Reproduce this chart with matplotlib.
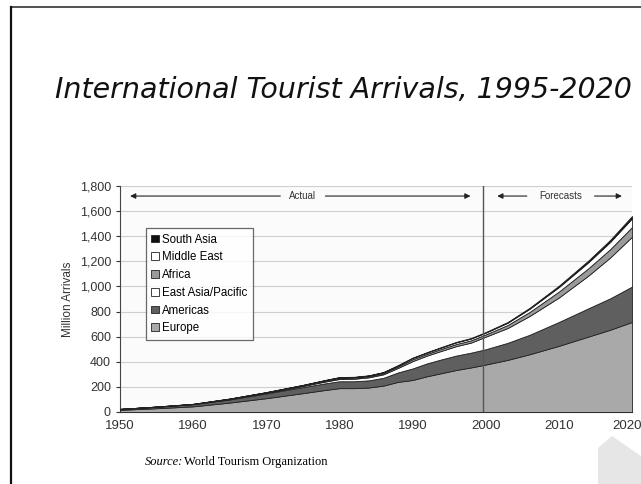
import matplotlib
matplotlib.use("Agg")
import matplotlib.pyplot as plt
from matplotlib.ticker import FuncFormatter
from matplotlib.patches import Polygon
from matplotlib.transforms import ScaledTranslation
import numpy as np

years = [1950, 1955, 1960, 1965, 1970, 1975, 1978, 1980, 1982, 1984, 1986, 1988,
         1990, 1992, 1994, 1996, 1998, 2000, 2003, 2006, 2010, 2014, 2017, 2020]
europe = [17, 30, 45, 75, 110, 150, 175, 190, 190, 195, 210, 240,
          255, 285, 310, 335, 355, 378, 415, 460, 527, 600, 655, 717]
americas = [7, 11, 17, 25, 38, 48, 53, 55, 55, 57, 62, 75,
            92, 103, 110, 115, 118, 122, 136, 155, 190, 225, 250, 282]
east_asia_pacific = [0.2, 1, 1, 3, 6, 9, 14, 18, 20, 24, 28, 36,
                     58, 62, 68, 75, 80, 100, 118, 150, 195, 260, 325, 397]
africa = [0.5, 1, 1, 2, 2, 4, 6, 7, 7, 8, 9, 11,
          15, 14, 16, 17, 18, 18, 24, 32, 47, 58, 66, 77]
middle_east = [0.2, 0.5, 1, 2, 2, 4, 5, 6, 6, 6, 7, 8,
               10, 10, 11, 13, 14, 14, 18, 25, 36, 48, 58, 69]
south_asia = [0.1, 0.2, 0.3, 0.5, 1, 1.5, 2, 2.5, 2.5, 2.5, 2.5, 3,
              3, 3.5, 4, 4, 4.5, 5, 6, 8, 11, 14, 16, 19]

series_names = ["Europe", "Americas", "East Asia/Pacific", "Africa", "Middle East", "South Asia"]
series_colors = ["#a9a9a9", "#5f5f5f", "#ffffff", "#9a9a9a", "#ffffff", "#111111"]
y_ticks = [0, 200, 400, 600, 800, 1000, 1200, 1400, 1600, 1800]
x_ticks = [1950, 1960, 1970, 1980, 1990, 2000, 2010, 2020]

title = "International Tourist Arrivals, 1995-2020"

fig = plt.figure(figsize=(6.41, 4.84), dpi=100)
fig.patch.set_facecolor("white")

# slide border lines
fig.add_artist(plt.Line2D([11/641, 1.0], [1 - 7/484, 1 - 7/484], color="#333333", lw=1.2))
fig.add_artist(plt.Line2D([11/641, 11/641], [0, 1 - 7/484], color="#111111", lw=1.6))

fig.text(343/641, 1 - 90/484, title, fontsize=20.5, style="italic",
         family="DejaVu Sans", ha="center", va="center", color="#111111")

ax = fig.add_axes([120/641, 1 - 412/484, (632 - 120)/641, (412 - 186)/484])
ax.set_facecolor("#fbfbfb")

stack = np.vstack([europe, americas, east_asia_pacific, africa, middle_east, south_asia])
ax.stackplot(years, stack, colors=series_colors, edgecolor="#222222", linewidth=0.6,
             labels=series_names, zorder=3)

ax.set_xlim(1950, 2020)
ax.set_ylim(0, 1800)
ax.set_yticks(y_ticks)
ax.set_xticks(x_ticks)
ax.yaxis.set_major_formatter(FuncFormatter(lambda v, p: f"{int(v):,}"))
ax.grid(axis="y", color="#cfcfcf", lw=0.8, zorder=0)
ax.set_axisbelow(True)
for s in ["top", "right"]:
    ax.spines[s].set_visible(False)
ax.spines["left"].set_color("#444444")
ax.spines["bottom"].set_color("#444444")
ax.tick_params(axis="y", labelsize=9, colors="#333333", length=3)
ax.tick_params(axis="x", labelsize=9.5, colors="#333333", length=0, pad=6)
for lab in ax.get_xticklabels() + ax.get_yticklabels():
    lab.set_family("Liberation Sans")
# keep the last year label inside the canvas
last = ax.get_xticklabels()[-1]
last.set_transform(last.get_transform() + ScaledTranslation(-5/100, 0, fig.dpi_scale_trans))
ax.set_ylabel("Million Arrivals", fontsize=8.5, family="Liberation Sans", color="#333333", labelpad=4)

# divider at 2000
ax.axvline(1999.6, color="#555555", lw=1.0, zorder=5)

# Actual / Forecasts arrows
arr = dict(arrowstyle="-|>", color="#222222", lw=0.8, mutation_scale=8)
yarr = 1720
ax.text(1975, yarr, "Actual", fontsize=7, ha="center", va="center", family="Liberation Sans",
        color="#333333", bbox=dict(fc="#fbfbfb", ec="none", pad=1.5), zorder=6)
ax.annotate("", xy=(1951, yarr), xytext=(1972.3, yarr), arrowprops=arr, zorder=5)
ax.annotate("", xy=(1998.3, yarr), xytext=(1977.7, yarr), arrowprops=arr, zorder=5)
ax.text(2010.2, yarr, "Forecasts", fontsize=7, ha="center", va="center", family="Liberation Sans",
        color="#333333", bbox=dict(fc="#fbfbfb", ec="none", pad=1.5), zorder=6)
ax.annotate("", xy=(2001.2, yarr), xytext=(2006.0, yarr), arrowprops=arr, zorder=5)
ax.annotate("", xy=(2019, yarr), xytext=(2014.5, yarr), arrowprops=arr, zorder=5)

# legend (reversed order)
handles, labels = ax.get_legend_handles_labels()
leg = ax.legend(handles[::-1], labels[::-1], loc="upper left", bbox_to_anchor=(0.05, 0.815),
                prop={"family": "Liberation Sans", "size": 8.3}, frameon=True, fancybox=False,
                edgecolor="#444444", handlelength=0.65, handleheight=0.65, handletextpad=0.25,
                labelspacing=0.5, borderpad=0.5, borderaxespad=0)
leg.get_frame().set_linewidth(0.9)

# source
fig.text(145/641, 1 - 462/484, "Source:", fontsize=9, style="italic", family="Liberation Serif",
         ha="left", va="center")
fig.text(184/641, 1 - 462/484, "World Tourism Organization", fontsize=9, family="Liberation Serif",
         ha="left", va="center")

# watermark corner
fig.add_artist(Polygon([[598/641, 1 - 448/484], [612/641, 1 - 436/484], [641/641, 1 - 456/484],
                        [641/641, 0], [598/641, 0]], closed=True, transform=fig.transFigure,
                       fc="#e6e6e6", ec="none"))

fig.savefig("out.png", dpi=100)
